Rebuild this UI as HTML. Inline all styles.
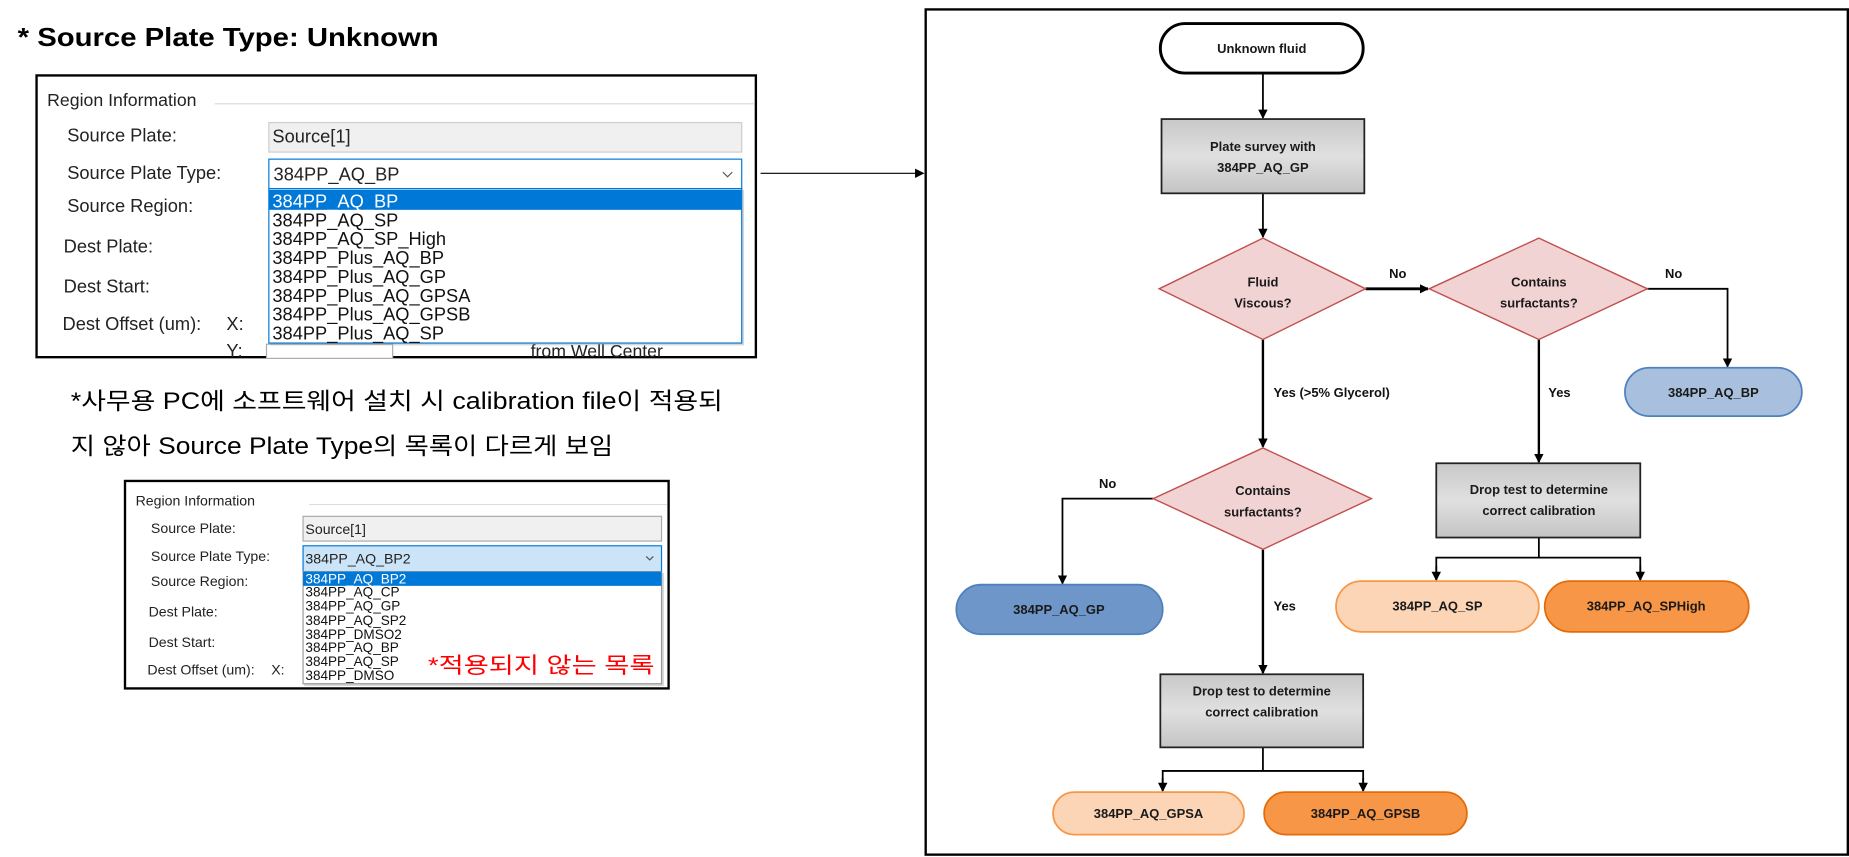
<!DOCTYPE html>
<html><head><meta charset="utf-8"><style>
html,body{margin:0;padding:0;background:#fff;}
svg{display:block;}
text{font-family:"Liberation Sans","Noto Sans CJK KR",sans-serif;}
.fc{font-size:11px;font-weight:bold;fill:#1a1a1a;text-anchor:middle;}
.lb{font-size:11px;font-weight:bold;fill:#111;}
</style></head><body>
<svg width="1849" height="857" viewBox="0 0 1568 727" preserveAspectRatio="none" xmlns="http://www.w3.org/2000/svg">
<defs>
<marker id="ah" markerWidth="8" markerHeight="8" refX="7" refY="4" orient="auto" markerUnits="userSpaceOnUse"><path d="M0,0 L8,4 L0,8 z" fill="#000"/></marker>
<linearGradient id="gr" x1="0" y1="0" x2="0" y2="1"><stop offset="0" stop-color="#c8c8c8"/><stop offset="0.5" stop-color="#e0e0e0"/><stop offset="1" stop-color="#c4c4c4"/></linearGradient>
</defs>
<!-- Title -->
<text x="15" y="39" font-size="22" font-weight="bold" fill="#000" textLength="357" lengthAdjust="spacingAndGlyphs">* Source Plate Type: Unknown</text>

<!-- Screenshot 1 -->
<rect x="31" y="64" width="610" height="239" fill="#fff" stroke="#000" stroke-width="2"/>
<text x="40" y="90" font-size="15" fill="#222">Region Information</text>
<line x1="182" y1="88" x2="640" y2="88" stroke="#ddd" stroke-width="1"/>
<g font-size="15.5" fill="#222">
<text x="57" y="120">Source Plate:</text>
<text x="57" y="152">Source Plate Type:</text>
<text x="57" y="180">Source Region:</text>
<text x="54" y="214">Dest Plate:</text>
<text x="54" y="248">Dest Start:</text>
<text x="53" y="280">Dest Offset (um):</text>
<text x="192" y="280">X:</text>
<text x="192" y="303">Y:</text>
</g>
<rect x="228" y="104" width="401" height="25" fill="#f0f0f0" stroke="#ccc"/>
<text x="231" y="121" font-size="15.5" fill="#222">Source[1]</text>
<rect x="228" y="135" width="401" height="25" fill="#fff" stroke="#0078d7" stroke-width="1"/>
<text x="232" y="153" font-size="15.5" fill="#222">384PP_AQ_BP</text>
<path d="M613,146 l4,4 l4,-4" fill="none" stroke="#555" stroke-width="1"/>
<rect x="226" y="292" width="107" height="12" fill="#fff" stroke="#aaa"/>
<text x="450" y="303" font-size="15" fill="#222">from Well Center</text>
<rect x="229" y="161" width="402" height="132" fill="#999" opacity="0.4"/>
<rect x="228" y="160" width="401" height="131" fill="#fff" stroke="#0078d7" stroke-width="1"/>
<rect x="228" y="161" width="401" height="17" fill="#0078d7"/>
<g font-size="15.5" fill="#111">
<text x="231" y="176" fill="#fff">384PP_AQ_BP</text>
<text x="231" y="192">384PP_AQ_SP</text>
<text x="231" y="208">384PP_AQ_SP_High</text>
<text x="231" y="224">384PP_Plus_AQ_BP</text>
<text x="231" y="240">384PP_Plus_AQ_GP</text>
<text x="231" y="256">384PP_Plus_AQ_GPSA</text>
<text x="231" y="272">384PP_Plus_AQ_GPSB</text>
<text x="231" y="288">384PP_Plus_AQ_SP</text>
</g>
<line x1="645" y1="147" x2="783" y2="147" stroke="#000" stroke-width="1" marker-end="url(#ah)"/>

<!-- Korean note -->
<text x="60" y="347" font-size="20" fill="#000" textLength="553" lengthAdjust="spacingAndGlyphs">*사무용 PC에 소프트웨어 설치 시 calibration file이 적용되</text>
<text x="60" y="385" font-size="20" fill="#000" textLength="460" lengthAdjust="spacingAndGlyphs">지 않아 Source Plate Type의 목록이 다르게 보임</text>

<!-- Screenshot 2 -->
<rect x="106" y="408" width="461" height="176" fill="#fff" stroke="#000" stroke-width="2"/>
<text x="115" y="429" font-size="12" fill="#222">Region Information</text>
<line x1="262" y1="428" x2="566" y2="428" stroke="#ddd"/>
<g font-size="12" fill="#222">
<text x="128" y="452">Source Plate:</text>
<text x="128" y="476">Source Plate Type:</text>
<text x="128" y="497">Source Region:</text>
<text x="126" y="523">Dest Plate:</text>
<text x="126" y="549">Dest Start:</text>
<text x="125" y="572">Dest Offset (um):</text>
<text x="230" y="572">X:</text>
</g>
<rect x="257" y="438" width="304" height="21" fill="#f0f0f0" stroke="#aaa"/>
<text x="259" y="453" font-size="12" fill="#222">Source[1]</text>
<rect x="257" y="463" width="304" height="22" fill="#cce4f7" stroke="#0078d7"/>
<text x="259" y="478" font-size="12" fill="#222">384PP_AQ_BP2</text>
<path d="M548,472 l3,3 l3,-3" fill="none" stroke="#555"/>
<rect x="258" y="486" width="305" height="96" fill="#999" opacity="0.4"/>
<rect x="257" y="485" width="304" height="95" fill="#fff" stroke="#999"/>
<rect x="257" y="485" width="304" height="12" fill="#0078d7"/>
<g font-size="11.5" fill="#111">
<text x="259" y="495" fill="#fff">384PP_AQ_BP2</text>
<text x="259" y="506">384PP_AQ_CP</text>
<text x="259" y="518">384PP_AQ_GP</text>
<text x="259" y="530">384PP_AQ_SP2</text>
<text x="259" y="542">384PP_DMSO2</text>
<text x="259" y="553">384PP_AQ_BP</text>
<text x="259" y="565">384PP_AQ_SP</text>
<text x="259" y="577">384PP_DMSO</text>
</g>
<text x="363" y="571" font-size="19" fill="#ff0000" textLength="192" lengthAdjust="spacingAndGlyphs">*적용되지 않는 목록</text>

<!-- Flowchart frame -->
<rect x="785" y="8" width="782" height="717" fill="#fff" stroke="#000" stroke-width="2"/>

<!-- connectors -->
<g stroke="#000" stroke-width="1.5" fill="none">
<line x1="1071" y1="62" x2="1071" y2="100" marker-end="url(#ah)"/>
<line x1="1071" y1="164" x2="1071" y2="201" marker-end="url(#ah)"/>
<line x1="1158" y1="245" x2="1211" y2="245" stroke-width="2.5" marker-end="url(#ah)"/>
<polyline points="1397,245 1465,245 1465,311" marker-end="url(#ah)"/>
<line x1="1071" y1="288" x2="1071" y2="379" stroke-width="2" marker-end="url(#ah)"/>
<line x1="1305" y1="288" x2="1305" y2="392" stroke-width="2" marker-end="url(#ah)"/>
<polyline points="978,423 901,423 901,495" marker-end="url(#ah)"/>
<line x1="1071" y1="466" x2="1071" y2="571" stroke-width="2" marker-end="url(#ah)"/>
<line x1="1305" y1="456" x2="1305" y2="473"/>
<polyline points="1218,492 1218,473 1391,473 1391,492" />
<line x1="1218" y1="480" x2="1218" y2="492" marker-end="url(#ah)"/>
<line x1="1391" y1="480" x2="1391" y2="492" marker-end="url(#ah)"/>
<line x1="1071" y1="634" x2="1071" y2="654"/>
<polyline points="986,671 986,654 1156,654 1156,671"/>
<line x1="986" y1="660" x2="986" y2="671" marker-end="url(#ah)"/>
<line x1="1156" y1="660" x2="1156" y2="671" marker-end="url(#ah)"/>
</g>

<!-- nodes -->
<rect x="984" y="20" width="172" height="42" rx="21" fill="#fff" stroke="#000" stroke-width="2.5"/>
<text class="fc" x="1070" y="45">Unknown fluid</text>

<rect x="985" y="101" width="172" height="63" fill="url(#gr)" stroke="#222" stroke-width="1.5"/>
<text class="fc" x="1071" y="128">Plate survey with</text>
<text class="fc" x="1071" y="146">384PP_AQ_GP</text>

<polygon points="1071,202 1158,245 1071,288 983,245" fill="#f2d3d3" stroke="#c0504d" stroke-width="1.2"/>
<text class="fc" x="1071" y="243">Fluid</text>
<text class="fc" x="1071" y="261">Viscous?</text>

<polygon points="1305,202 1397,245 1305,288 1212,245" fill="#f2d3d3" stroke="#c0504d" stroke-width="1.2"/>
<text class="fc" x="1305" y="243">Contains</text>
<text class="fc" x="1305" y="261">surfactants?</text>

<polygon points="1071,380 1163,423 1071,466 978,423" fill="#f2d3d3" stroke="#c0504d" stroke-width="1.2"/>
<text class="fc" x="1071" y="420">Contains</text>
<text class="fc" x="1071" y="438">surfactants?</text>

<text class="lb" x="1178" y="236">No</text>
<text class="lb" x="1412" y="236">No</text>
<text class="lb" x="932" y="414">No</text>
<text class="lb" x="1080" y="337">Yes (&gt;5% Glycerol)</text>
<text class="lb" x="1313" y="337">Yes</text>
<text class="lb" x="1080" y="518">Yes</text>

<rect x="1378" y="312" width="150" height="41" rx="20.5" fill="#a8c0de" stroke="#4f81bd" stroke-width="1.5"/>
<text class="fc" x="1453" y="337">384PP_AQ_BP</text>

<rect x="811" y="496" width="175" height="42" rx="21" fill="#6f96c8" stroke="#4f81bd" stroke-width="1.5"/>
<text class="fc" x="898" y="521">384PP_AQ_GP</text>

<rect x="1218" y="393" width="173" height="63" fill="url(#gr)" stroke="#222" stroke-width="1.5"/>
<text class="fc" x="1305" y="419">Drop test to determine</text>
<text class="fc" x="1305" y="437">correct calibration</text>

<rect x="1133" y="493" width="172" height="43" rx="21.5" fill="#fbd5b5" stroke="#f79646" stroke-width="1.5"/>
<text class="fc" x="1219" y="518">384PP_AQ_SP</text>
<rect x="1310" y="493" width="173" height="43" rx="21.5" fill="#f79646" stroke="#e36c0a" stroke-width="1.5"/>
<text class="fc" x="1396" y="518">384PP_AQ_SPHigh</text>

<rect x="984" y="572" width="172" height="62" fill="url(#gr)" stroke="#222" stroke-width="1.5"/>
<text class="fc" x="1070" y="590">Drop test to determine</text>
<text class="fc" x="1070" y="608">correct calibration</text>

<rect x="893" y="672" width="162" height="36" rx="18" fill="#fbd5b5" stroke="#f79646" stroke-width="1.5"/>
<text class="fc" x="974" y="694">384PP_AQ_GPSA</text>
<rect x="1072" y="672" width="172" height="36" rx="18" fill="#f79646" stroke="#e36c0a" stroke-width="1.5"/>
<text class="fc" x="1158" y="694">384PP_AQ_GPSB</text>
</svg>
</body></html>
